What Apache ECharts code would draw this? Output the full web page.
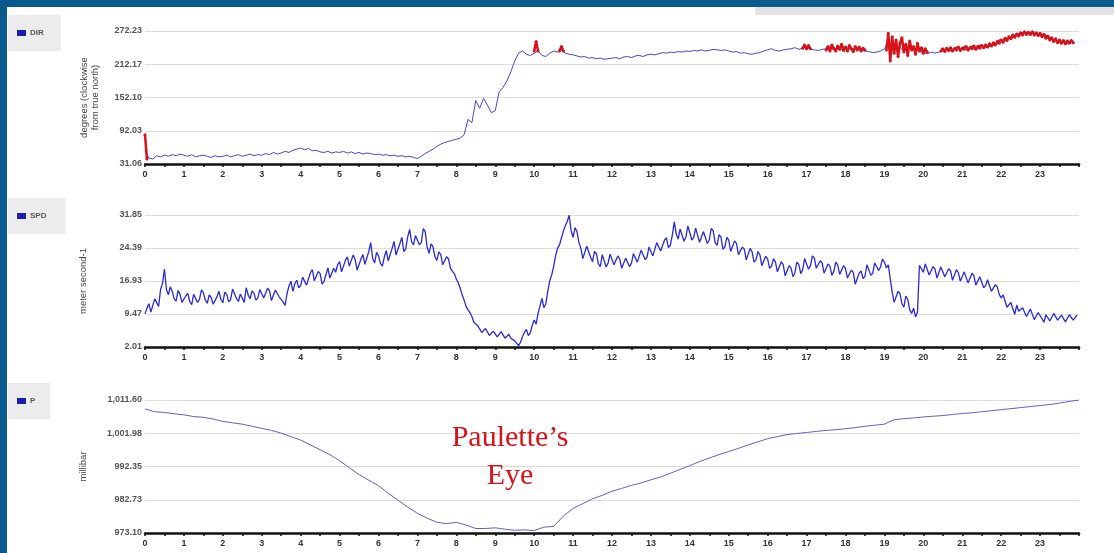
<!DOCTYPE html>
<html>
<head>
<meta charset="utf-8">
<title>Paulette</title>
<script src="https://cdn.jsdelivr.net/npm/echarts@6/dist/echarts.min.js"></script>
<style>
  html, body { margin: 0; padding: 0; background: #fff; }
  #chart { width: 1114px; height: 553px; }
</style>
</head>
<body>
<div id="chart"></div>
<script>
// sampling step of each record, in hours
var dirStep = 0.1;
var spdStep = 0.05;
var pStep = 0.25;
var flagStep = 0.05;

var hourTicks = [0, 1, 2, 3, 4, 5, 6, 7, 8, 9, 10, 11, 12, 13, 14, 15, 16, 17, 18, 19, 20, 21, 22, 23];

var dirTicks = ['31.06', '92.03', '152.10', '212.17', '272.23'];
var spdTicks = ['2.01', '9.47', '16.93', '24.39', '31.85'];
var pTicks = ['973.10', '982.73', '992.35', '1,001.98', '1,011.60'];

// wind direction, degrees
var dirValues = [
  55, 42, 40, 46, 44, 47, 45, 48, 46, 49,
  47, 45, 48, 44, 46, 47, 45, 43, 46, 44,
  45, 47, 44, 46, 48, 45, 47, 49, 46, 48,
  47, 50, 48, 52, 49, 51, 54, 52, 56, 58,
  60, 57, 59, 55, 56, 53, 52, 54, 51, 53,
  52, 54, 51, 53, 50, 52, 49, 51, 50, 48,
  49, 47, 48, 46, 47, 45, 46, 44, 45, 43,
  41, 45, 50, 54, 58, 63, 67, 70, 72, 74,
  76, 78, 84, 112, 106, 146, 132, 150, 138, 124,
  128, 162, 170, 182, 198, 218, 232, 236, 230, 228,
  232, 236, 228, 226, 232, 236, 234, 238, 232, 230,
  229, 227, 225, 226, 223, 224, 222, 223, 221, 222,
  223, 224, 222, 225, 226, 224, 227, 228, 226, 229,
  230, 229, 231, 233, 232, 234, 233, 235, 234, 236,
  235, 237, 236, 238, 236, 237, 239, 238, 237, 238,
  236, 234, 235, 232, 233, 231, 230, 232, 233, 236,
  238, 240, 237, 236, 238, 239, 240, 242, 239, 241,
  243, 239, 238, 237, 239, 240, 238, 241, 240, 239,
  241, 240, 239, 241, 238, 236, 235, 233, 234, 236,
  240, 252, 238, 246, 242, 236, 244, 238, 240, 235,
  233, 231, 234, 232, 234, 236, 238, 237, 239, 238,
  240, 239, 241, 240, 242, 243, 242, 244, 246, 249,
  252, 256, 258, 262, 266, 268, 270, 268, 269, 266,
  264, 267, 262, 258, 255, 252, 256, 250, 253, 251
];

// flagged direction records (red), start hour of each run
var flagStarts = [0, 10.0, 10.65, 16.9, 17.5, 19.05, 20.45];
var flagRuns = [
  [84, 40],
  [236, 253, 236],
  [236, 244, 236],
  [241, 247, 240, 246, 240],
  [238, 244, 236, 247, 240, 236, 245, 239, 248, 237, 243, 236, 246, 240, 235, 244, 238, 243, 236, 241, 238],
  [238, 268, 218, 262, 232, 256, 226, 250, 260, 234, 248, 228, 254, 238, 244, 230, 250, 236, 242, 232, 240, 234],
  [236, 240, 235, 241, 237, 242, 236, 240, 238, 243, 237, 241, 239, 244, 238, 242, 240, 245, 239, 244,
   241, 246, 242, 247, 243, 249, 245, 251, 247, 253, 250, 256, 252, 259, 255, 262, 258, 265, 261, 267,
   263, 269, 265, 271, 266, 270, 266, 271, 265, 269, 264, 268, 262, 266, 259, 263, 256, 260, 253, 258,
   251, 256, 250, 255, 249, 254, 250, 255, 251]
];

// wind speed, m/s (one row per hour)
var spdValues = [
  9.5, 10.8, 11.8, 9.9, 10.2, 12.9, 12.6, 11.2, 15.0, 16.4, 19.6, 15.1, 13.8, 15.6, 14.6, 12.9, 12.4, 14.8, 13.9, 12.1,
  12.2, 13.6, 14.1, 12.3, 11.6, 13.9, 13.5, 12.1, 12.8, 14.9, 14.3, 12.6, 11.9, 13.8, 13.2, 11.7, 12.5, 13.4, 14.6, 12.8,
  12.0, 14.4, 13.9, 12.2, 12.7, 15.1, 14.8, 13.0, 12.3, 14.0, 13.6, 12.1, 15.4, 13.8, 12.9, 14.7, 14.2, 12.6, 13.1, 15.0,
  15.2, 13.1, 13.4, 15.3, 14.7, 12.5, 12.8, 14.9, 15.1, 13.3, 13.6, 12.2, 11.4, 14.1, 15.8, 16.9, 14.6, 16.3, 17.1, 15.4,
  15.9, 17.8, 18.2, 16.0, 16.4, 18.8, 19.5, 17.0, 17.2, 19.1, 18.6, 16.2, 16.8, 18.4, 19.9, 17.6, 17.5, 19.8, 18.9, 20.6,
  21.3, 19.0, 19.2, 21.6, 22.4, 20.3, 20.1, 22.8, 21.8, 19.4, 19.6, 21.9, 22.9, 20.7, 20.4, 23.6, 25.6, 22.1, 21.0, 23.4,
  22.6, 20.9, 20.3, 22.4, 23.8, 21.5, 21.7, 24.3, 25.9, 22.8, 23.1, 25.4, 26.8, 23.6, 24.2, 26.9, 28.6, 25.8, 25.1, 27.2,
  27.4, 25.1, 25.6, 28.8, 28.1, 24.6, 23.2, 25.3, 24.7, 22.4, 21.6, 23.5, 22.9, 20.6, 20.8, 22.4, 21.9, 19.8, 19.1, 18.6,
  17.4, 16.5, 15.3, 13.8, 12.6, 11.2, 10.4, 9.8, 8.9, 7.6, 7.2, 6.8, 6.1, 5.3, 5.4, 6.2, 5.8, 4.6, 4.9, 5.6,
  5.4, 4.3, 4.7, 5.5, 5.1, 4.0, 4.3, 4.9, 4.0, 3.6, 3.4, 3.0, 2.3, 3.1, 4.4, 5.3, 6.0, 4.6, 5.2, 6.9,
  8.1, 7.2, 9.6, 11.3, 13.0, 10.9, 11.8, 14.6, 17.0, 18.3, 20.2, 22.6, 24.3, 25.1, 26.6, 28.2, 29.4, 30.4, 31.8, 28.3,
  26.8, 29.0, 28.1, 25.6, 24.3, 22.0, 22.4, 24.8, 25.0, 22.3, 21.3, 23.6, 23.1, 20.8, 20.2, 22.9, 22.6, 20.1, 21.0, 23.0,
  22.8, 20.6, 20.4, 22.6, 21.9, 19.8, 19.6, 22.1, 22.3, 20.2, 20.9, 23.1, 23.4, 21.2, 21.5, 23.9, 24.1, 21.8, 22.3, 24.6,
  24.9, 22.6, 23.0, 25.6, 25.8, 23.7, 24.1, 26.2, 26.7, 24.5, 25.0, 27.3, 30.3, 27.6, 26.4, 28.7, 28.4, 25.9, 26.9, 29.4,
  29.1, 26.2, 26.8, 28.9, 28.6, 25.7, 25.3, 28.1, 27.9, 25.4, 26.2, 28.8, 28.3, 25.6, 25.0, 27.4, 26.9, 24.1, 24.6, 26.8,
  26.2, 23.6, 23.9, 26.0, 25.4, 22.9, 22.8, 24.6, 24.1, 21.7, 22.0, 24.3, 23.5, 21.2, 21.7, 23.6, 22.9, 20.4, 20.6, 22.5,
  21.9, 19.8, 20.3, 22.0, 21.2, 19.0, 19.4, 21.3, 20.6, 18.1, 18.3, 20.4, 19.9, 17.9, 18.8, 21.2, 20.7, 18.6, 19.5, 22.0,
  21.8, 19.6, 20.4, 22.6, 22.1, 19.8, 19.6, 21.5, 21.0, 18.7, 18.9, 20.8, 20.3, 18.2, 19.1, 21.2, 20.6, 18.4, 18.5, 20.4,
  19.8, 17.6, 17.2, 19.4, 18.9, 16.2, 16.4, 18.7, 19.2, 17.5, 18.0, 20.6, 20.3, 18.2, 18.7, 21.0, 21.4, 19.3, 20.1, 21.9,
  21.2, 19.9, 20.6, 17.4, 14.4, 12.1, 12.3, 14.6, 14.1, 11.8, 11.0, 13.5, 12.8, 10.4, 9.6, 10.8, 8.8, 9.9, 20.5, 19.7,
  18.9, 20.8, 20.4, 18.3, 18.1, 20.2, 19.6, 17.6, 17.8, 20.1, 19.9, 17.9, 18.3, 19.7, 19.2, 17.1, 17.4, 19.5, 18.8, 16.9,
  17.3, 19.0, 18.6, 16.5, 16.8, 18.7, 18.1, 16.0, 16.2, 17.9, 17.5, 15.4, 15.9, 17.2, 16.8, 14.6, 14.8, 16.1, 15.6, 13.9,
  13.1, 13.8, 12.4, 11.0, 11.2, 12.1, 10.6, 9.4, 11.5, 10.1, 9.8, 10.9, 10.9, 8.9, 9.3, 10.6, 10.4, 8.2, 8.6, 9.8,
  9.7, 8.4, 7.6, 9.3, 9.1, 7.9, 8.2, 9.6, 9.4, 8.1, 7.8, 9.2, 8.9, 7.7, 8.0, 9.3, 9.0, 8.1, 8.5, 9.2
];

// pressure, millibar
var pValues = [
  1009.0, 1008.2, 1008.0, 1007.6, 1007.3, 1006.8, 1006.6, 1006.1,
  1005.4, 1005.0, 1004.6, 1004.0, 1003.4, 1002.8, 1002.0, 1001.0,
  1000.0, 998.6, 997.2, 995.8, 994.0, 992.0, 990.0, 988.4,
  986.8, 984.6, 982.6, 980.6, 978.8, 977.4, 976.2, 975.8,
  976.2, 975.4, 974.4, 974.4, 974.6, 974.2, 973.9, 974.0,
  973.8, 974.8, 975.0, 978.0, 980.2, 981.6, 983.0, 984.0,
  985.2, 986.0, 986.9, 987.6, 988.5, 989.3, 990.4, 991.5,
  992.6, 993.8, 994.8, 995.8, 996.7, 997.6, 998.6, 999.5,
  1000.4, 1001.0, 1001.6, 1001.9, 1002.2, 1002.5, 1002.8, 1003.0,
  1003.3, 1003.6, 1004.0, 1004.3, 1004.6, 1005.9, 1006.2, 1006.4,
  1006.7, 1006.9, 1007.1, 1007.4, 1007.7, 1007.9, 1008.2, 1008.5,
  1008.8, 1009.1, 1009.4, 1009.7, 1010.0, 1010.3, 1010.7, 1011.2,
  1011.6
];

function toPairs(values, start, step) {
  return values.map(function (v, i) { return [+(start + i * step).toFixed(3), v]; });
}

function tickFormatter(labels) {
  var lo = parseFloat(labels[0].replace(/,/g, ''));
  var hi = parseFloat(labels[labels.length - 1].replace(/,/g, ''));
  var gap = (hi - lo) / (labels.length - 1);
  return function (v) {
    var i = Math.round((v - lo) / gap);
    return labels[i] || '';
  };
}

function yAxisFor(labels, gridIndex, name, nameGap) {
  var lo = parseFloat(labels[0].replace(/,/g, ''));
  var hi = parseFloat(labels[labels.length - 1].replace(/,/g, ''));
  return {
    type: 'value',
    gridIndex: gridIndex,
    min: lo,
    max: hi,
    interval: (hi - lo) / (labels.length - 1),
    name: name,
    nameLocation: 'middle',
    nameGap: nameGap,
    nameRotate: 90,
    nameTextStyle: { fontSize: 9.5, color: '#444', lineHeight: 11, fontFamily: 'Liberation Sans' },
    axisLine: { show: false },
    axisTick: { show: false },
    axisLabel: {
      fontSize: 9, color: '#555', fontWeight: 'bold', margin: 3,
      fontFamily: 'Liberation Sans',
      formatter: tickFormatter(labels)
    },
    splitLine: { lineStyle: { color: '#dcdcdc', width: 1 } }
  };
}

function xAxisFor(gridIndex) {
  return {
    type: 'value',
    gridIndex: gridIndex,
    min: hourTicks[0],
    max: hourTicks[hourTicks.length - 1] + 1,
    interval: 1,
    axisLine: { lineStyle: { color: '#111', width: 2.5 } },
    axisTick: { show: true, length: 3, lineStyle: { color: '#111', width: 1.5 } },
    minorTick: { show: true, splitNumber: 2, length: 3, lineStyle: { color: '#111', width: 1.5 } },
    splitLine: { show: false },
    axisLabel: {
      fontSize: 9, color: '#333', fontWeight: 'bold', margin: 6,
      fontFamily: 'Liberation Sans',
      formatter: function (v) { return hourTicks.indexOf(v) >= 0 ? String(v) : ''; }
    }
  };
}

var blue = '#2a2ad4';
var red = '#d81219';

var series = [
  {
    name: 'DIR', type: 'line', xAxisIndex: 0, yAxisIndex: 0,
    data: toPairs(dirValues, 0, dirStep),
    showSymbol: false, lineStyle: { color: '#4545d8', width: 1 }, itemStyle: { color: '#1c1cb0' }, z: 2
  },
  {
    name: 'SPD', type: 'line', xAxisIndex: 1, yAxisIndex: 1,
    data: toPairs(spdValues, 0, spdStep),
    showSymbol: false, lineStyle: { color: blue, width: 1.3 }, itemStyle: { color: '#1c1cb0' }
  },
  {
    name: 'P', type: 'line', xAxisIndex: 2, yAxisIndex: 2,
    data: toPairs(pValues, 0, pStep),
    showSymbol: false, lineStyle: { color: '#5f5fd0', width: 1 }, itemStyle: { color: '#1c1cb0' }
  }
];

flagStarts.forEach(function (s, k) {
  series.push({
    name: 'flag' + k, type: 'line', xAxisIndex: 0, yAxisIndex: 0,
    data: toPairs(flagRuns[k], s, flagStep),
    symbol: 'circle', symbolSize: 3, showSymbol: true,
    lineStyle: { color: red, width: 2.5 }, itemStyle: { color: red }, z: 3
  });
});

function legendFor(name, top, right) {
  return {
    data: [name], left: 8, top: top, orient: 'horizontal',
    backgroundColor: '#ececec',
    padding: [14, right, 14, 9],
    icon: 'rect', itemWidth: 9, itemHeight: 6, itemGap: 4,
    selectedMode: false,
    textStyle: { fontSize: 8, color: '#555', fontWeight: 'bold', fontFamily: 'Liberation Sans', padding: [0, 0, 0, -1] }
  };
}

var chart = echarts.init(document.getElementById('chart'), null, { renderer: 'canvas' });
chart.setOption({
  animation: false,
  backgroundColor: '#fff',
  legend: [
    legendFor('DIR', 15, 17),
    legendFor('SPD', 198, 19),
    legendFor('P', 383, 15)
  ],
  grid: [
    { left: 145, right: 35, top: 31, height: 133 },
    { left: 145, right: 35, top: 215, height: 132 },
    { left: 145, right: 35, top: 400, height: 133 }
  ],
  xAxis: [xAxisFor(0), xAxisFor(1), xAxisFor(2)],
  yAxis: [
    yAxisFor(dirTicks, 0, 'degrees (clockwise\nfrom true north)', 44),
    yAxisFor(spdTicks, 1, 'meter second-1', 56),
    yAxisFor(pTicks, 2, 'millibar', 56)
  ],
  series: series,
  graphic: [
    { type: 'rect', x: 0, y: 0, shape: { width: 1114, height: 7 }, style: { fill: '#0b5a8e' }, silent: true },
    { type: 'rect', x: 0, y: 0, shape: { width: 7, height: 553 }, style: { fill: '#0b5a8e' }, silent: true },
    { type: 'rect', x: 755, y: 7, shape: { width: 359, height: 8 }, style: { fill: '#e3e3e3' }, silent: true },
    {
      type: 'text', x: 510, y: 419, z: 100, silent: true,
      style: {
        text: 'Paulette\u2019s\nEye', fill: red, font: '30px "Liberation Serif"',
        align: 'center', textAlign: 'center', verticalAlign: 'top', lineHeight: 38
      }
    }
  ]
});
</script>
</body>
</html>
